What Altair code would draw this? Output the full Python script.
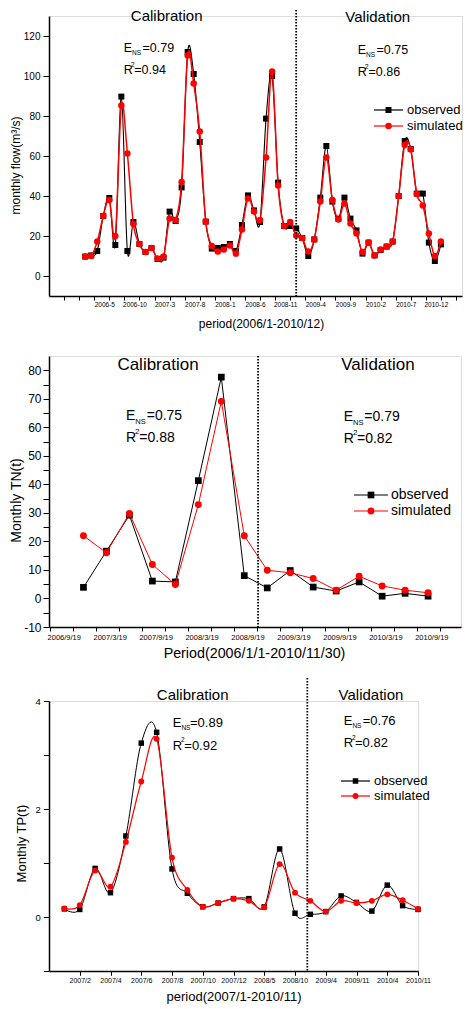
import json
import altair as alt
import pandas as pd

FONT = "Liberation Sans"
BLACK = "#000000"
RED = "#ff0000"

# ---------------- Panel 1: monthly flow (months since 2006-1) ----------------
FLOW_T = list(range(60))
FLOW_OBS = [9.7, 10.3, 12.5, 30, 39, 15.5, 89.7, 12.5, 27, 16, 12, 14,
            8.5, 9.2, 32.2, 27.5, 44.3, 112, 101, 67, 27.2, 13.7, 14, 14.5,
            16, 12.5, 25.5, 40.3, 32.8, 27, 78.7, 100, 46.7, 25, 25, 23.8,
            19, 10, 18.3, 39.2, 65, 37.2, 28.7, 39.2, 28.7, 22.8, 11.2, 16.7,
            10.3, 13, 14.7, 17.2, 40, 67.5, 63.5, 41.2, 41.2, 16.7, 7.5, 15.8]
FLOW_SIM = [9.7, 10, 17.2, 30, 38, 20, 85.3, 61.2, 26, 16, 12, 14,
            8.7, 9.7, 28.8, 28, 47, 110.3, 96.2, 72.2, 27.2, 15, 12.2, 13.3,
            15.3, 11.2, 23.3, 38.8, 32.2, 28, 59.2, 102.2, 45.3, 25, 27, 20.2,
            19, 12.2, 18.3, 37.2, 59.2, 38, 28.3, 36.2, 26.2, 21.3, 12, 16.7,
            10.3, 13.3, 14.7, 17.2, 40, 65.5, 63.3, 41, 35.3, 21.3, 10, 17.2]
FLOW_SPLIT = [35]
FLOW_TICK_POS = [4, 9, 14, 19, 24, 29, 34, 39, 44, 49, 54, 59]
FLOW_TICK_LABELS = ["2006-5", "2006-10", "2007-3", "2007-8", "2008-1", "2008-6",
                    "2008-11", "2009-4", "2009-9", "2010-2", "2010-7", "2010-12"]
FLOW_Y_TICKS = [0, 20, 40, 60, 80, 100, 120]

# ---------------- Panel 2: monthly TN (months since 2006/9/19) ----------------
TN_T = [1.4, 4.4, 7.4, 10.4, 13.4, 16.4, 19.4, 22.4, 25.4, 28.4, 31.4, 34.4,
        37.4, 40.4, 43.4, 46.4]
TN_OBS = [3.9, 16.6, 29.2, 6.1, 5.8, 41.3, 77.6, 8.0, 3.7, 9.8, 4.0, 2.6, 5.8, 0.8, 1.8, 0.8]
TN_SIM = [22.0, 16.0, 29.8, 11.9, 4.9, 32.9, 69.1, 22.0, 9.9, 9.0, 7.0, 2.9, 7.8, 4.4, 2.9, 2.0]
TN_SPLIT = [24.2]
TN_TICK_POS = [0, 6, 12, 18, 24, 30, 36, 42, 48]
TN_TICK_LABELS = ["2006/9/19", "2007/3/19", "2007/9/19", "2008/3/19", "2008/9/19",
                  "2009/3/19", "2009/9/19", "2010/3/19", "2010/9/19"]

# ---------------- Panel 3: monthly TP (sample index) ----------------
TP_T = list(range(24))
TP_OBS = [0.15, 0.14, 0.90, 0.45, 1.50, 3.22, 3.42, 0.89, 0.44, 0.19, 0.26, 0.34,
          0.34, 0.19, 1.26, 0.07, 0.05, 0.10, 0.39, 0.27, 0.11, 0.59, 0.21, 0.14]
TP_SIM = [0.16, 0.22, 0.86, 0.56, 1.39, 2.51, 3.30, 1.10, 0.50, 0.19, 0.26, 0.34,
          0.30, 0.18, 0.98, 0.45, 0.30, 0.10, 0.30, 0.26, 0.30, 0.42, 0.31, 0.15]
TP_SPLIT = [15.8]
TP_TICK_POS = [1, 3, 5, 7, 9, 11, 13, 15, 17, 19, 21, 23]
TP_TICK_LABELS = ["2007/2", "2007/4", "2007/6", "2007/8", "2007/10", "2007/12",
                  "2008/5", "2008/10", "2009/4", "2009/11", "2010/4", "2010/11"]

ONE = pd.DataFrame({"k": [0]})


def label_expr(pos, labels):
    p = json.dumps(pos)
    return f"indexof({p}, datum.value) >= 0 ? {json.dumps(labels)}[indexof({p}, datum.value)] : ''"


def txt(x, y, s, size, align="left"):
    return alt.Chart(ONE).mark_text(text=s, font=FONT, fontSize=size, align=align,
                                    baseline="middle", color=BLACK).encode(
        x=alt.value(x), y=alt.value(y))


def legend(x0, x1, yo, ys, tx, size, sq, cs):
    xm = (x0 + x1) / 2
    out = []
    for y, col, shp, sz, lab in [(yo, BLACK, "square", sq, "observed"),
                                 (ys, RED, "circle", cs, "simulated")]:
        out.append(alt.Chart(ONE).mark_rule(color=col, strokeWidth=1.2).encode(
            x=alt.value(x0), x2=alt.value(x1), y=alt.value(y)))
        out.append(alt.Chart(ONE).mark_point(shape=shp, filled=True, color=col, size=sz,
                                             opacity=1).encode(x=alt.value(xm), y=alt.value(y)))
        out.append(txt(tx, y, lab, size))
    return out


def panel(t, obs, sim, split, xdom, ydom, w, h, xaxis, yaxis, interp, lw_obs, lw_sim,
          sq, cs, rule_top, extra):
    xs = alt.Scale(domain=xdom, nice=False, zero=False)
    ys = alt.Scale(domain=ydom, nice=False, zero=False)

    def enc(df):
        return alt.Chart(df).encode(x=alt.X("t:Q", scale=xs, axis=xaxis),
                                    y=alt.Y("v:Q", scale=ys, axis=yaxis))
    dobs = pd.DataFrame({"t": t, "v": obs})
    dsim = pd.DataFrame({"t": t, "v": sim})
    lk = dict(interpolate=interp)
    if interp == "cardinal":
        lk["tension"] = 0
    layers = [
        enc(dobs).mark_line(color=BLACK, strokeWidth=lw_obs, **lk),
        enc(dobs).mark_point(shape="square", filled=True, color=BLACK, size=sq, opacity=1),
        enc(dsim).mark_line(color=RED, strokeWidth=lw_sim, **lk),
        enc(dsim).mark_point(shape="circle", filled=True, color=RED, size=cs, opacity=1),
        alt.Chart(pd.DataFrame({"t": split})).mark_rule(
            color=BLACK, strokeDash=[1.5, 1.5], strokeWidth=1.8).encode(
            x=alt.X("t:Q", scale=xs, axis=xaxis), y=alt.value(rule_top), y2=alt.value(h)),
    ] + extra
    return alt.layer(*layers).properties(width=w, height=h)


AX = dict(grid=False, domainColor=BLACK, domainWidth=1.5, tickColor=BLACK, tickWidth=1,
          labelColor=BLACK, titleColor=BLACK, labelFont=FONT, titleFont=FONT,
          titleFontWeight="normal", labelOverlap=False, labelFlush=False,
          titleAlign="center", titleBaseline="middle")

# ---- panel 1 ----
W1, H1 = 413, 280
x1 = alt.Axis(values=[-3.5 + 2.5 * k for k in range(27)],
              labelExpr=label_expr(FLOW_TICK_POS, FLOW_TICK_LABELS),
              labelFontSize=6.5, labelOffset=-5, labelPadding=1, tickSize=4,
              title="period(2006/1-2010/12)", titleFontSize=12, titleX=212, titleY=27, **AX)
y1 = alt.Axis(values=FLOW_Y_TICKS, labelFontSize=10, labelPadding=3, tickSize=6,
              title="monthly flow(m³/s)", titleFontSize=12, titleX=-34, titleY=149,
              titleAngle=270, **AX)
extra1 = [
    txt(117.7, 0, "Calibration", 15, "center"),
    txt(328.7, 1, "Validation", 15, "center"),
    txt(74.7, 32, "E", 12.5), txt(83, 36.5, "NS", 6.5), txt(93.5, 32, "=0.79", 12.5),
    txt(74.7, 54, "R", 12.5), txt(81.8, 49, "2", 7), txt(85.3, 54, "=0.94", 12.5),
    txt(308.7, 34, "E", 12.5), txt(317, 38.5, "NS", 6.5), txt(327.5, 34, "=0.75", 12.5),
    txt(308.7, 56.3, "R", 12.5), txt(315.8, 51.3, "2", 7), txt(319.5, 56.3, "=0.86", 12.5),
] + legend(325, 354, 94, 110, 358, 13, 36, 42)
p1 = panel(FLOW_T, FLOW_OBS, FLOW_SIM, FLOW_SPLIT, [-6, 62.5], [-10, 130], W1, H1,
           x1, y1, "cardinal", 1.1, 1.5, 36, 42, -6, extra1)

# ---- panel 2 ----
W2, H2 = 412, 271
x2 = alt.Axis(values=[-3 + 3 * k for k in range(18)],
              labelExpr=label_expr(TN_TICK_POS, TN_TICK_LABELS),
              labelFontSize=7.5, labelOffset=-9, labelPadding=2, tickSize=4,
              title="Period(2006/1/1-2010/11/30)", titleFontSize=14.3, titleX=205, titleY=26, **AX)
y2 = alt.Axis(values=[-10 + 5 * k for k in range(19)],
              labelExpr="datum.value % 10 == 0 ? '' + datum.value : ''",
              labelFontSize=12, labelPadding=2, tickSize=6,
              title="Monthly TN(t)", titleFontSize=14, titleX=-33, titleY=144,
              titleAngle=270, **AX)
extra2 = [
    txt(109, 9, "Calibration", 17, "center"),
    txt(329, 9, "Validation", 17, "center"),
    txt(77, 60, "E", 14), txt(86.3, 65.5, "NS", 7.5), txt(97.7, 60, "=0.75", 14),
    txt(77, 82.3, "R", 14), txt(86, 76, "2", 8), txt(90.3, 82.3, "=0.88", 14),
    txt(294.7, 60.7, "E", 14), txt(304, 67, "NS", 7.5), txt(315.3, 60.7, "=0.79", 14),
    txt(294.7, 83.3, "R", 14), txt(304, 77.3, "2", 8), txt(308, 83.3, "=0.82", 14),
] + legend(305, 339, 139, 155, 342, 14, 45, 48)
p2 = panel(TN_T, TN_OBS, TN_SIM, TN_SPLIT, [-3.1, 50.7], [-10, 85], W2, H2,
           x2, y2, "linear", 1, 1, 45, 48, 0, extra2)

# ---- panel 3 ----
W3, H3 = 369, 270
x3 = alt.Axis(values=TP_TICK_POS, labelExpr=label_expr(TP_TICK_POS, TP_TICK_LABELS),
              labelFontSize=7, labelPadding=1.2, tickSize=4.3,
              title="period(2007/1-2010/11)", titleFontSize=13, titleX=W3 / 2, titleY=25, **AX)
y3 = alt.Axis(values=[-1, 0, 1, 2, 3, 4],
              labelExpr="datum.value >= 0 && datum.value % 2 == 0 ? '' + datum.value : ''",
              labelFontSize=9.5, labelPadding=3, tickSize=5.7,
              title="Monthly TP(t)", titleFontSize=13, titleX=-28, titleY=142,
              titleAngle=270, **AX)
extra3 = [
    txt(143.7, -6, "Calibration", 15, "center"),
    txt(322, -6, "Validation", 15, "center"),
    txt(123.7, 22, "E", 13), txt(132.4, 27, "NS", 6.5), txt(141, 22, "=0.89", 13),
    txt(123.7, 44.7, "R", 13), txt(132, 38.7, "2", 6.5), txt(135.3, 44.7, "=0.92", 13),
    txt(294.7, 19.7, "E", 13), txt(303.4, 25.3, "NS", 6.5), txt(313.7, 19.7, "=0.76", 13),
    txt(294.7, 42, "R", 13), txt(303, 37, "2", 6.5), txt(306, 42, "=0.82", 13),
] + legend(292, 321, 80, 95, 325, 13, 30, 34)
p3 = panel(TP_T, TP_OBS, TP_SIM, TP_SPLIT, [-1, 23], [-1, 4], W3, H3,
           x3, y3, "cardinal", 1, 1.2, 30, 34, -23, extra3)

chart = alt.vconcat(p1, alt.vconcat(p2, p3, spacing=15), spacing=24).properties(
    padding={"left": 0, "top": 0, "right": 0, "bottom": 0}
).configure_view(stroke=None).configure(background="white")

chart.save("out.html", embed_options={"renderer": "svg", "actions": False})
